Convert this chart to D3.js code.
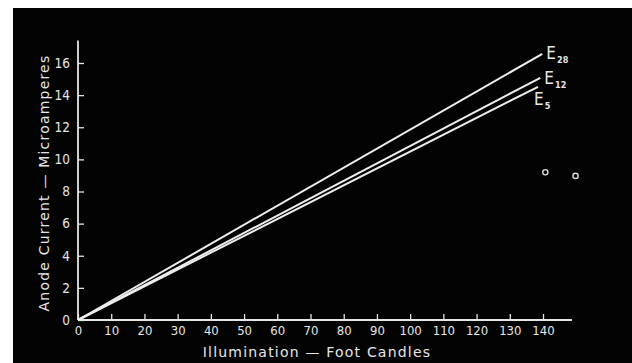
<!DOCTYPE html>
<html>
<head>
<meta charset="utf-8">
<script src="https://cdn.jsdelivr.net/npm/d3@7"></script>
<style>
  html, body { margin: 0; padding: 0; background: #fff; }
  svg { display: block; }
  text { font-family: "DejaVu Sans", sans-serif; fill: #e6e6e6; }
</style>
</head>
<body>
<svg id="chart" width="632" height="363"></svg>
<script>
// ---- data ----
const seriesNames = ["28", "12", "5"];
const seriesStartX = [0, 0, 0];
const seriesStartY = [0, 0, 0];
const seriesEndX = [139.8, 139.2, 138.5];
const seriesEndY = [16.57, 15.08, 14.52];
const markerX = [140.7, 149.8];
const markerY = [9.2, 8.97];
const xTicks = [0, 10, 20, 30, 40, 50, 60, 70, 80, 90, 100, 110, 120, 130, 140];
const yTicks = [0, 2, 4, 6, 8, 10, 12, 14, 16];
const xTitle = "Illumination — Foot Candles";
const yTitle = "Anode Current — Microamperes";

const svg = d3.select("#chart");
const fg = "#e6e6e6";
const cond = '"DejaVu Sans Condensed", "DejaVu Sans", sans-serif';

// black panel
svg.append("rect").attr("x", 13).attr("y", 8).attr("width", 619).attr("height", 355).attr("fill", "#030303");

const x = d3.scaleLinear().domain([0, 140]).range([78, 543]);
const y = d3.scaleLinear().domain([0, 16]).range([320, 63]);

// axes lines
svg.append("line").attr("x1", x(0)).attr("x2", x(148.7)).attr("y1", y(0)).attr("y2", y(0))
  .attr("stroke", fg).attr("stroke-width", 1.8);
svg.append("line").attr("x1", x(0)).attr("x2", x(0)).attr("y1", y(0)).attr("y2", y(17.4))
  .attr("stroke", fg).attr("stroke-width", 1.8);

const xAxis = d3.axisBottom(x).tickValues(xTicks).tickSizeInner(-6).tickSizeOuter(0).tickPadding(8);
const gx = svg.append("g").attr("transform", `translate(0,${y(0)})`).call(xAxis);
gx.select(".domain").remove();
gx.selectAll(".tick line").attr("stroke", fg).attr("stroke-width", 1.3);
gx.selectAll(".tick text").attr("font-size", 13).attr("fill", fg).attr("dy", "0.55em")
  .style("font-family", cond);

const yAxis = d3.axisLeft(y).tickValues(yTicks).tickSizeInner(-6).tickSizeOuter(0).tickPadding(6);
const gy = svg.append("g").attr("transform", `translate(${x(0)},0)`).call(yAxis);
gy.select(".domain").remove();
gy.selectAll(".tick line").attr("stroke", fg).attr("stroke-width", 1.3);
gy.selectAll(".tick text").attr("font-size", 13.5).attr("fill", fg).attr("dx", "-2")
  .style("font-family", cond);

// series lines
const line = d3.line().x(d => x(d[0])).y(d => y(d[1]));
seriesNames.forEach((n, i) => {
  const pts = [[seriesStartX[i], seriesStartY[i]], [seriesEndX[i], seriesEndY[i]]];
  svg.append("path").attr("d", line(pts)).attr("fill", "none")
    .attr("stroke", "#eeeeee").attr("stroke-width", 2);
});

// series labels
const labelOffsets = [[4, 0], [4, 1], [-4, 13]];
seriesNames.forEach((n, i) => {
  const t = svg.append("text")
    .attr("x", x(seriesEndX[i]) + labelOffsets[i][0])
    .attr("y", y(seriesEndY[i]) + labelOffsets[i][1] + 5)
    .attr("font-size", 17).style("font-family", cond);
  t.append("tspan").text("E");
  t.append("tspan").text(n).attr("font-size", 9).attr("dy", 4).attr("dx", 1).attr("font-weight", "bold");
});

// markers
markerX.forEach((mx, i) => {
  svg.append("circle").attr("cx", x(mx)).attr("cy", y(markerY[i])).attr("r", 2.6)
    .attr("fill", "none").attr("stroke", "#dddddd").attr("stroke-width", 1.4);
});

// axis titles
svg.append("text").attr("x", 317).attr("y", 357).attr("text-anchor", "middle")
  .attr("font-size", 14).attr("letter-spacing", 1.2).text(xTitle);
svg.append("text").attr("transform", "translate(49,183) rotate(-90)").attr("text-anchor", "middle")
  .attr("font-size", 14).attr("letter-spacing", 1.2).text(yTitle);
</script>
</body>
</html>
